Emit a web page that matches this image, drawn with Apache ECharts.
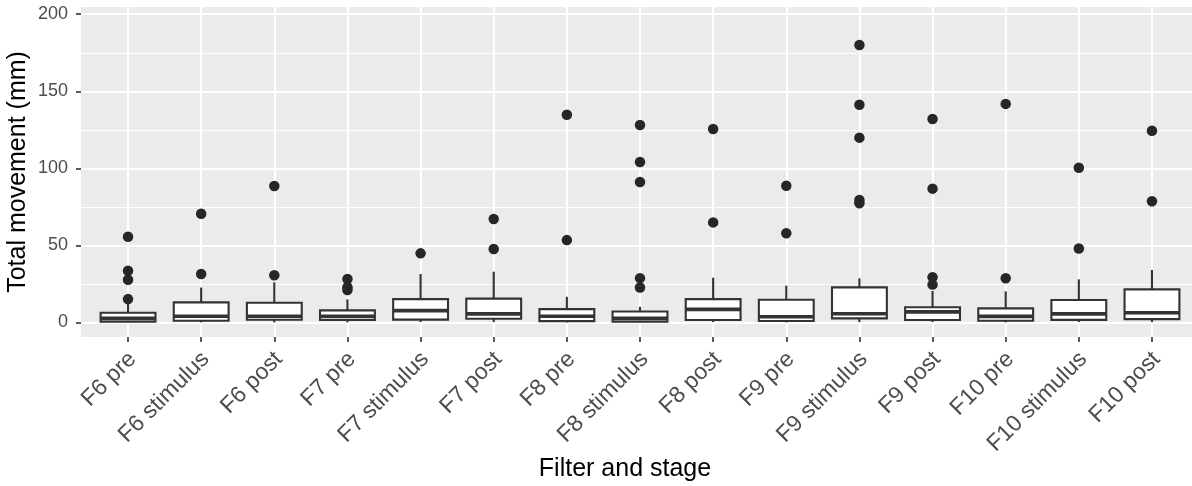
<!DOCTYPE html>
<html>
<head>
<meta charset="utf-8">
<script src="https://cdn.jsdelivr.net/npm/echarts@6/dist/echarts.min.js"></script>
<style>
html,body{margin:0;padding:0;background:#fff;}
#chart{width:1192px;height:486px;}
</style>
</head>
<body>
<div id="chart"></div>
<script>
// ---- data ----
const categories = ['F6 pre','F6 stimulus','F6 post','F7 pre','F7 stimulus','F7 post','F8 pre','F8 stimulus','F8 post','F9 pre','F9 stimulus','F9 post','F10 pre','F10 stimulus','F10 post'];
const whiskerLow  = [0, 0, 0, 0, 0.2, 0.2, 0, 0, 0.2, 0, 0.2, 0.2, 0, 0.2, 0.2];
const q1          = [0.5, 1.0, 1.7, 1.5, 1.8, 2.3, 0.8, 0.5, 1.5, 0.9, 2.6, 1.5, 1.0, 1.6, 2.1];
const median      = [2.6, 4.0, 4.0, 3.9, 7.6, 5.5, 4.0, 2.6, 8.4, 3.6, 5.6, 6.8, 3.9, 5.5, 6.2];
const q3          = [6.2, 13.0, 12.7, 7.8, 15.1, 15.4, 8.6, 7.1, 15.1, 14.7, 22.7, 9.8, 9.1, 14.5, 21.4];
const whiskerHigh = [13.0, 22.6, 26.0, 14.9, 31.4, 32.9, 16.6, 10.1, 29.0, 23.8, 28.6, 20.4, 20.1, 27.9, 34.0];
const outliers = [
  [15.1, 27.7, 33.5, 55.6],
  [31.4, 70.5],
  [30.6, 88.5],
  [21.0, 22.8, 28.2],
  [44.8],
  [47.6, 67.1],
  [53.4, 134.8],
  [22.6, 28.7, 91.1, 104.1, 128.1],
  [64.9, 125.5],
  [57.8, 88.7],
  [77.3, 79.4, 119.9, 141.3, 180.0],
  [24.5, 29.3, 86.8, 132.0],
  [28.6, 141.8],
  [48.0, 100.4],
  [78.6, 124.4]
];
const yMajorTicks = [0, 50, 100, 150, 200];
const yMinorTicks = [25, 75, 125, 175];
const xTitle = 'Filter and stage';
const yTitle = 'Total movement (mm)';

// ---- build series data ----
const boxData = categories.map((c, i) => [i, whiskerLow[i], q1[i], median[i], q3[i], whiskerHigh[i]]);
const outlierData = [];
outliers.forEach((arr, i) => arr.forEach(v => outlierData.push([i, v])));
const xIdx = categories.map((c, i) => i);

const FONT = '"Liberation Sans", Arial, sans-serif';
const INK = '#333333';

const chart = echarts.init(document.getElementById('chart'), null, {renderer: 'canvas'});
chart.setOption({
  animation: false,
  backgroundColor: '#ffffff',
  title: {
    text: xTitle,
    left: 620, top: 452, textAlign: 'center',
    textStyle: {fontFamily: FONT, fontSize: 25, fontWeight: 'normal', color: '#000'}
  },
  grid: {left: 81, top: 7, bottom: 149, right: -7, show: true, backgroundColor: '#EBEBEB', borderWidth: 0,
    containLabel: false, outerBoundsMode: 'none'},
  xAxis: {
    type: 'value', min: -0.643, max: 14.643,
    axisLine: {show: false, onZero: false},
    axisTick: {show: true, length: 5, customValues: xIdx, lineStyle: {color: INK, width: 1.6}},
    axisLabel: {
      customValues: xIdx, rotate: 45, margin: 7, align: 'right', verticalAlign: 'top',
      padding: [0, 5, 0, 0],
      fontFamily: FONT, fontSize: 23, color: '#4D4D4D',
      formatter: v => categories[Math.round(v)]
    },
    splitLine: {show: true, lineStyle: {color: '#ffffff', width: 2}}
  },
  yAxis: [{
    type: 'value', min: -9.5, max: 204.7,
    name: yTitle, nameLocation: 'middle', nameGap: 50, nameMoveOverlap: false,
    nameTextStyle: {fontFamily: FONT, fontSize: 25, color: '#000'},
    axisLine: {show: false, onZero: false},
    axisTick: {show: true, length: 5, customValues: yMajorTicks, lineStyle: {color: INK, width: 1.6}},
    axisLabel: {customValues: yMajorTicks, margin: 13, fontFamily: FONT, fontSize: 18, color: '#4D4D4D'},
    splitLine: {show: true, lineStyle: {color: '#ffffff', width: 2}}
  }, {
    type: 'value', min: -9.5, max: 204.7, position: 'left',
    axisLine: {show: false, onZero: false},
    axisTick: {show: false, customValues: yMinorTicks},
    axisLabel: {show: false, customValues: yMinorTicks},
    splitLine: {show: true, lineStyle: {color: '#ffffff', width: 1}}
  }],
  series: [{
    type: 'custom',
    xAxisIndex: 0, yAxisIndex: 0,
    data: boxData,
    z: 3,
    renderItem: function (params, api) {
      const x = api.value(0);
      const pLo = api.coord([x, api.value(1)]);
      const pQ1 = api.coord([x, api.value(2)]);
      const pMed = api.coord([x, api.value(3)]);
      const pQ3 = api.coord([x, api.value(4)]);
      const pHi = api.coord([x, api.value(5)]);
      const w = api.size([0.75, 0])[0];
      const cx = pMed[0];
      const stroke = {stroke: INK, lineWidth: 2.1};
      return {
        type: 'group',
        children: [
          {type: 'line', shape: {x1: cx, y1: pHi[1], x2: cx, y2: pQ3[1]}, style: stroke},
          {type: 'line', shape: {x1: cx, y1: pQ1[1], x2: cx, y2: pLo[1]}, style: stroke},
          {type: 'rect', shape: {x: cx - w / 2, y: pQ3[1], width: w, height: pQ1[1] - pQ3[1]},
            style: {fill: '#ffffff', stroke: INK, lineWidth: 2.1}},
          {type: 'line', shape: {x1: cx - w / 2, y1: pMed[1], x2: cx + w / 2, y2: pMed[1]},
            style: {stroke: INK, lineWidth: 3.6}}
        ]
      };
    }
  }, {
    type: 'scatter',
    xAxisIndex: 0, yAxisIndex: 0,
    data: outlierData,
    symbol: 'circle', symbolSize: 10.5,
    itemStyle: {color: '#262626', opacity: 1},
    z: 4
  }]
});
</script>
</body>
</html>
